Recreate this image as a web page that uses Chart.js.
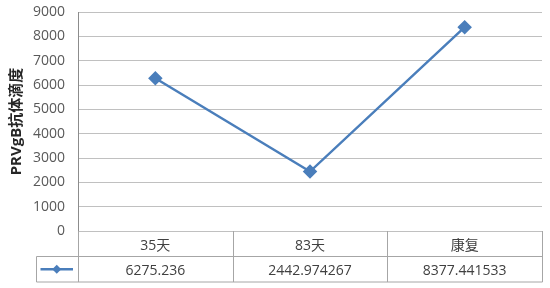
<!DOCTYPE html>
<html>
<head>
<meta charset="utf-8">
<script src="https://cdn.jsdelivr.net/npm/chart.js@4/dist/chart.umd.min.js"></script>
<style>
html,body{margin:0;padding:0;background:#fff;}
#wrap{width:550px;height:288px;position:relative;}
</style>
</head>
<body>
<div id="wrap"><canvas id="c" width="550" height="288"></canvas></div>
<script>
const categories = ['35天', '83天', '康复'];
const titerValues = [6275.236, 2442.974267, 8377.441533];
const yTicks = [0, 1000, 2000, 3000, 4000, 5000, 6000, 7000, 8000, 9000];
const yTitle = 'PRVgB抗体滴度';

const LINE = '#4A7EBB';
const TABLE = '#A6A6A6';
const FONT = "'Open Sans', 'Noto Sans CJK SC', sans-serif";

const tablePlugin = {
  id: 'dataTable',
  afterDraw(chart) {
    const ctx = chart.ctx;
    const x = chart.scales.x;
    const n = categories.length;
    const step = x.getPixelForValue(1) - x.getPixelForValue(0);
    const top = Math.round(x.top) + 0.5;
    const rowH = 25;
    const mid = top + rowH;
    const bot = top + rowH * 2 + 0.5;
    const legLeft = 36.5;
    ctx.save();
    ctx.strokeStyle = TABLE;
    ctx.lineWidth = 1;
    ctx.beginPath();
    ctx.moveTo(legLeft, mid); ctx.lineTo(Math.round(x.right) + 0.5, mid);
    ctx.moveTo(legLeft, bot); ctx.lineTo(Math.round(x.right) + 0.5, bot);
    ctx.moveTo(legLeft, mid); ctx.lineTo(legLeft, bot);
    for (let i = 0; i <= n; i++) {
      const px = Math.round(x.getPixelForValue(i) - step / 2) + 0.5;
      ctx.moveTo(px, top - 0.5); ctx.lineTo(px, bot);
    }
    ctx.stroke();
    const ds = chart.data.datasets[0];
    const x0 = legLeft + 4, x1 = Math.round(x.left) - 5;
    const cy = (mid + bot) / 2;
    ctx.strokeStyle = ds.borderColor;
    ctx.lineWidth = 2.5;
    ctx.beginPath(); ctx.moveTo(x0, cy); ctx.lineTo(x1, cy); ctx.stroke();
    const cx = (x0 + x1) / 2, r = 4.5;
    ctx.fillStyle = ds.pointBackgroundColor;
    ctx.beginPath();
    ctx.moveTo(cx, cy - r); ctx.lineTo(cx + r, cy); ctx.lineTo(cx, cy + r); ctx.lineTo(cx - r, cy);
    ctx.closePath(); ctx.fill();
    ctx.restore();
  }
};

new Chart(document.getElementById('c'), {
  type: 'line',
  data: {
    labels: categories,
    datasets: [{
      label: yTitle,
      data: titerValues,
      borderColor: LINE,
      backgroundColor: LINE,
      pointBackgroundColor: LINE,
      pointBorderColor: LINE,
      borderWidth: 2.5,
      pointStyle: 'rectRot',
      pointRadius: 5.5,
      pointHoverRadius: 5.5,
      tension: 0,
      clip: false
    }]
  },
  options: {
    responsive: false,
    animation: false,
    devicePixelRatio: 1,
    layout: { padding: { top: 12, right: 7, left: 0, bottom: 0 } },
    plugins: { legend: { display: false }, tooltip: { enabled: false } },
    scales: {
      x: {
        type: 'category',
        offset: true,
        grid: { display: false },
        border: { display: false },
        ticks: {
          autoSkip: false,
          maxRotation: 0,
          minRotation: 0,
          padding: -5,
          color: '#404040',
          font: { family: FONT, size: 14, lineHeight: '25px' },
          callback: (v, i) => [categories[i], String(titerValues[i])]
        },
        afterFit(s) { s.height = 57; }
      },
      y: {
        min: 0,
        max: 9000,
        afterBuildTicks(s) { s.ticks = yTicks.map(v => ({ value: v })); },
        grid: { color: '#C0C0C0', lineWidth: 1, drawTicks: true, tickLength: 13, tickColor: 'rgba(0,0,0,0)' },
        border: { display: true, color: '#8C8C8C', width: 1 },
        ticks: {
          padding: 0,
          color: '#595959',
          font: { family: FONT, size: 14 },
          callback: v => String(v)
        },
        title: {
          display: true,
          text: yTitle,
          color: '#262626',
          font: { family: FONT, size: 15, weight: 'bold' },
          padding: { top: 8, bottom: 0 }
        },
        afterFit(s) { s.width = 78; }
      }
    }
  },
  plugins: [tablePlugin]
});
</script>
</body>
</html>
